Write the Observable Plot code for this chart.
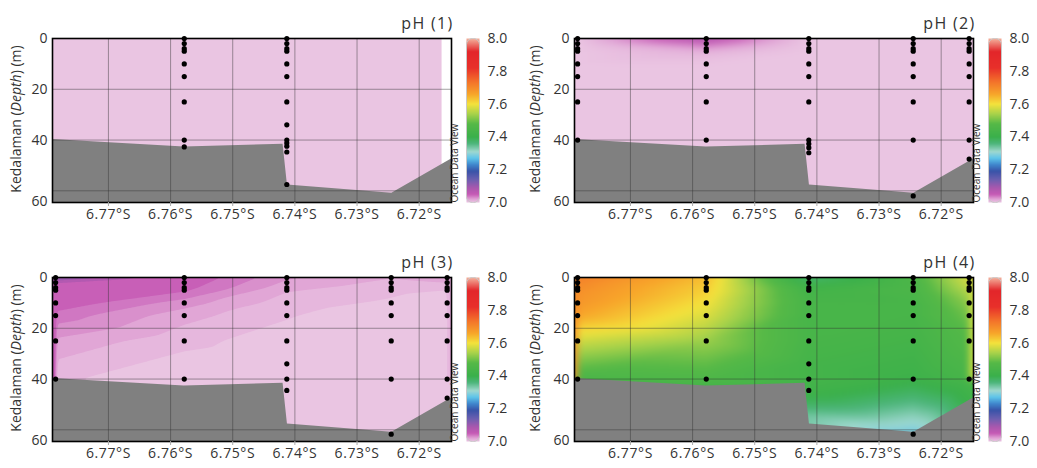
<!DOCTYPE html>
<html><head><meta charset="utf-8">
<script src="https://cdn.jsdelivr.net/npm/d3@7"></script>
<script src="https://cdn.jsdelivr.net/npm/@observablehq/plot@0.6"></script>
<style>
body{margin:0;background:#fff;font-family:"Open Sans",sans-serif;}
#root{position:relative;width:1037px;height:468px;overflow:hidden;background:#fff}
.panel{position:absolute;width:520px;height:234px}
.panel svg{position:absolute;top:0}
.ylab{position:absolute;top:119px;transform:translate(-50%,-50%) rotate(-90deg);white-space:nowrap;font-size:14px;color:#333;font-family:"Open Sans",sans-serif}
</style></head><body><div id="root"></div>
<script>
// ---- data ----
const stationNames = ["A", "B", "C", "D", "E"];
const stationLat = [6.7785, 6.7578, 6.7413, 6.7245, 6.7155]; // °S
const panelTitles = ["pH (1)", "pH (2)", "pH (3)", "pH (4)"];
const latTicks = [6.77, 6.76, 6.75, 6.74, 6.73, 6.72];
const depthTicks = [0, 20, 40, 60];
const colorTicks = [7.0, 7.2, 7.4, 7.6, 7.8, 8.0];
const seabedLat = [6.779, 6.7578, 6.7419, 6.7412, 6.7244, 6.7148];
const seabedDepth = [39.8, 42.7, 41.7, 57.7, 61.0, 47.5];
const fieldEdgeLat = [6.7164, 6.7148, 6.7148, 6.7148]; // eastern limit of gridded field
const bandLevels3 = [6.9, 7.008, 7.018, 7.028, 7.038, 7.048, 7.075, 7.1, 7.12];

// samples: [station, depth (m), pH]
const ph1 = [
  ["B",0,7.0],["B",2,7.0],["B",4,7.0],["B",5,7.0],["B",10,7.0],["B",15,7.0],["B",25,7.0],["B",40,7.0],["B",42.7,7.0],
  ["C",0,7.0],["C",2,7.0],["C",4,7.0],["C",5,7.0],["C",10,7.0],["C",15,7.0],["C",25,7.0],["C",34,7.0],["C",40,7.0],
  ["C",41.2,7.0],["C",42.4,7.0],["C",44.7,7.0],["C",57.5,7.0]
];
const ph2 = [
  ["A",0,7.0],["A",2,7.0],["A",4,7.0],["A",5,7.0],["A",10,7.0],["A",15,7.0],["A",25,7.0],["A",40,7.0],
  ["B",0,7.08],["B",2,7.045],["B",4,7.02],["B",5,7.01],["B",10,7.0],["B",15,7.0],["B",25,7.0],["B",40,7.0],
  ["C",0,7.0],["C",2,7.0],["C",4,7.0],["C",5,7.0],["C",10,7.0],["C",15,7.0],["C",25,7.0],["C",40,7.0],["C",41.5,7.0],["C",43,7.0],["C",45,7.0],
  ["D",0,7.0],["D",2,7.0],["D",4,7.0],["D",5,7.0],["D",10,7.0],["D",15,7.0],["D",25,7.0],["D",40,7.0],["D",62,7.0],
  ["E",0,7.0],["E",2,7.0],["E",4,7.0],["E",5,7.0],["E",10,7.0],["E",15,7.0],["E",25,7.0],["E",40,7.0],["E",47.5,7.0]
];
const ph3 = [
  ["A",0,7.14],["A",2,7.072],["A",4,7.066],["A",5,7.063],["A",10,7.056],["A",15,7.044],["A",25,7.026],["A",40,7.01],
  ["B",0,7.058],["B",2,7.055],["B",4,7.052],["B",5,7.05],["B",10,7.033],["B",15,7.022],["B",25,7.011],["B",40,7.0],
  ["C",0,7.03],["C",2,7.026],["C",4,7.022],["C",5,7.019],["C",10,7.013],["C",15,7.009],["C",25,7.003],["C",34,7.0],["C",40,7.0],["C",44.5,7.0],
  ["D",0,7.019],["D",2,7.015],["D",4,7.012],["D",5,7.011],["D",10,7.006],["D",15,7.0],["D",25,7.0],["D",40,7.0],["D",61.7,7.0],
  ["E",0,7.021],["E",2,7.019],["E",4,7.01],["E",5,7.008],["E",10,7.0],["E",15,7.0],["E",25,7.0],["E",40,7.0],["E",47.5,7.0]
];
const ph4 = [
  ["A",0,7.72],["A",2,7.70],["A",4,7.70],["A",5,7.69],["A",10,7.68],["A",15,7.66],["A",25,7.57],["A",40,7.45],
  ["B",0,7.64],["B",2,7.63],["B",4,7.62],["B",5,7.62],["B",10,7.60],["B",15,7.58],["B",25,7.53],["B",40,7.46],
  ["C",0,7.36],["C",2,7.40],["C",4,7.42],["C",5,7.43],["C",10,7.44],["C",15,7.44],["C",25,7.44],["C",34,7.43],["C",40,7.43],["C",44.5,7.42],
  ["D",0,7.46],["D",2,7.45],["D",4,7.45],["D",5,7.45],["D",10,7.44],["D",15,7.44],["D",25,7.43],["D",40,7.41],["D",61.7,7.28],
  ["E",0,7.58],["E",2,7.57],["E",4,7.56],["E",5,7.55],["E",10,7.52],["E",15,7.50],["E",25,7.47],["E",40,7.44]
];
const panels = [ph1, ph2, ph3, ph4];

// ---- style ----
const paletteStops  = [7.00, 7.02, 7.05, 7.09, 7.14, 7.19, 7.23, 7.27, 7.31, 7.36, 7.40, 7.48, 7.54, 7.60, 7.66, 7.74, 7.82, 7.92, 8.00];
const paletteColors = ["#eac5e2","#e0a3d5","#c65ab5","#a858ae","#6a5fb0","#3953a8","#3f86cc","#5ec4ea","#9fd8cf","#4cb57a","#3ab04b","#56b947","#a8d24a","#f4e23c","#f7a52a","#f36f2a","#e8302a","#e3262a","#f4b39e"];
const colorScale = {type: "linear", domain: paletteStops, range: paletteColors, clamp: true, interpolate: "rgb"};
const xDomain = [-6.779, -6.7148];
const yDomain = [0, 64.6];
const W = 515, H = 234;
const offsets = [[0, 0], [522, 0], [0, 239], [522, 239]];
const ylabX = [15, 12, 15, 12];
const font = "Open Sans";

const root = document.getElementById("root");
panels.forEach((rows, i) => {
  const samples = rows.map(([s, d, v]) => ({lat: stationLat[stationNames.indexOf(s)], depth: d, ph: v}));
  const seabed = seabedLat.map((lat, j) => ({lat, depth: seabedDepth[j]}));
  const div = document.createElement("div");
  div.className = "panel";
  div.style.left = offsets[i][0] + "px";
  div.style.top = offsets[i][1] + "px";
  root.appendChild(div);

  const fieldOpts = {x: d => -d.lat, y: "depth", fill: "ph", interpolate: "barycentric",
    x1: xDomain[0], x2: -fieldEdgeLat[i], y1: yDomain[0], y2: yDomain[1], pixelSize: 1};
  const field = i === 2
    ? Plot.contour(samples, {...fieldOpts, thresholds: bandLevels3, blur: 1, stroke: "none"})
    : Plot.raster(samples, {...fieldOpts, blur: 3});

  const main = Plot.plot({
    width: W, height: H, marginTop: 38, marginRight: 64, marginBottom: 32, marginLeft: 52,
    style: {fontFamily: font, fontSize: "14px", color: "#333", background: "transparent", overflow: "visible"},
    x: {domain: xDomain, axis: null, label: null},
    y: {domain: yDomain, reverse: true, axis: null, label: null},
    color: colorScale,
    marks: [
      field,
      Plot.areaY(seabed, {x: d => -d.lat, y1: "depth", y2: yDomain[1], fill: "#808080"}),
      Plot.ruleX(latTicks, {x: d => -d, stroke: "#333", strokeOpacity: 0.45}),
      Plot.ruleY(depthTicks.slice(1), {y: d => d, stroke: "#333", strokeOpacity: 0.45}),
      Plot.dot(samples, {x: d => -d.lat, y: "depth", r: 2.6, fill: "black", stroke: "none"}),
      Plot.frame({stroke: "black", strokeWidth: 1.6}),
      Plot.axisX(latTicks.map(d => -d), {tickFormat: d => `${(-d).toFixed(2)}°S`, tickSize: 4, tickPadding: 3,
        stroke: "#aaa", fill: "#333", fontSize: 14, label: null}),
      Plot.axisY(depthTicks.slice(0, 3), {tickSize: 0, tickPadding: 5, fill: "#333", fontSize: 14, label: null}),
      Plot.axisY(depthTicks.slice(3), {tickSize: 0, tickPadding: 5, dy: 11, fill: "#333", fontSize: 14, label: null}),
      Plot.text([panelTitles[i]], {frameAnchor: "top-right", dx: 2, dy: -21, textAnchor: "end", fontSize: 16, fill: "#333"})
    ]
  });
  d3.select(main).selectAll("text").each(function () {
    const t = this.textContent;
    if (t === panelTitles[i]) d3.select(this).attr("letter-spacing", "1.3px");
    else if (t.endsWith("°S")) d3.select(this).attr("letter-spacing", "0.6px");
  });
  div.appendChild(main);

  const cbar = Plot.plot({
    width: 75, height: H, marginTop: 38, marginBottom: 32, marginLeft: 16, marginRight: 46,
    style: {fontFamily: font, fontSize: "14px", color: "#333", background: "transparent", overflow: "visible"},
    x: {domain: [0, 1], axis: null},
    y: {domain: [7, 8], axis: null},
    color: colorScale,
    marks: [
      Plot.raster({fill: (x, y) => y, x1: 0, x2: 1, y1: 7, y2: 8, pixelSize: 1}),
      Plot.frame({stroke: "#c8c8c8", rx: 6}),
      Plot.axisY(colorTicks, {anchor: "right", tickSize: 0, tickPadding: 8, tickFormat: d => d.toFixed(1), fill: "#333", fontSize: 14, label: null}),
      Plot.text(["Ocean Data View"], {frameAnchor: "bottom-left", rotate: -90, textAnchor: "start", dx: -9, fontSize: 10, fill: "#333"})
    ]
  });
  cbar.style.left = "450px";
  div.appendChild(cbar);

  const yl = document.createElement("div");
  yl.className = "ylab";
  yl.style.left = ylabX[i] + "px";
  yl.innerHTML = "Kedalaman (<i>Depth</i>) (m)";
  div.appendChild(yl);
});
</script></body></html>
